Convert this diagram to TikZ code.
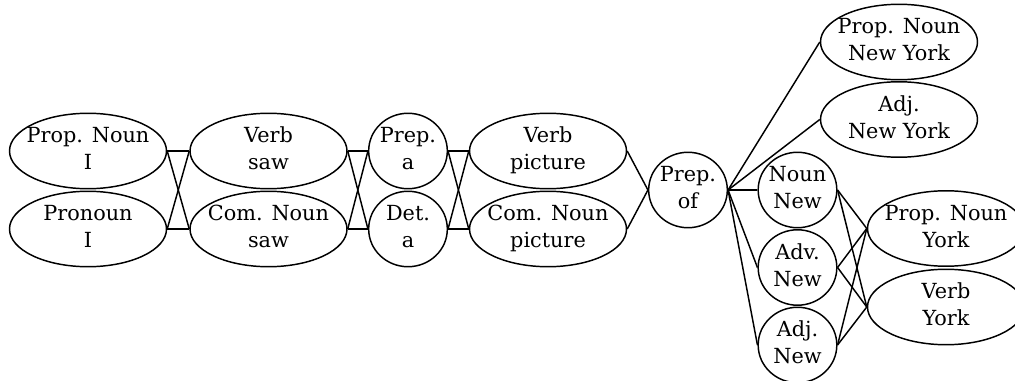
\documentclass[tikz,border=0pt]{standalone}
\usepackage{fontspec}
\setmainfont{DejaVu Serif}
\usetikzlibrary{shapes.geometric}
\newcommand{\twol}[2]{\raisebox{-1.5pt}{\makebox[0pt][c]{\begin{tabular}{@{}c@{}}#1\\#2\end{tabular}}}}
\begin{document}
\begin{tikzpicture}[x=0.75pt,y=-0.75pt,
  base/.style={ellipse, draw, line width=1.1pt, inner sep=0pt, font=\fontsize{15.6}{20}\selectfont, minimum height=52.5pt},
  ell/.style={base, minimum width=117.75pt},
  circ/.style={base, minimum width=59pt},
  conn/.style={line width=1.1pt}]
\useasboundingbox (0,0) rectangle (1015,381);
\node[ell]  (pn1)   at (88,151)    {\twol{Prop. Noun}{I}};
\node[ell]  (pr1)   at (88,229)    {\twol{Pronoun}{I}};
\node[ell]  (vs)    at (268.5,151) {\twol{Verb}{saw}};
\node[ell]  (cs)    at (268.5,229) {\twol{Com. Noun}{saw}};
\node[circ] (pa)    at (408,151)   {\twol{Prep.}{a}};
\node[circ] (da)    at (408,229)   {\twol{Det.}{a}};
\node[ell]  (vp)    at (548,151)   {\twol{Verb}{picture}};
\node[ell]  (cp)    at (548,229)   {\twol{Com. Noun}{picture}};
\node[circ] (po)    at (688,190)   {\twol{Prep.}{of}};
\node[ell]  (pnny)  at (899,42)    {\twol{Prop. Noun}{New York}};
\node[ell]  (adjny) at (899,119.5) {\twol{Adj.}{New York}};
\node[circ] (nn)    at (797.5,190) {\twol{Noun}{New}};
\node[circ] (avn)   at (797.5,267.5) {\twol{Adv.}{New}};
\node[circ] (ajn)   at (797.5,345) {\twol{Adj.}{New}};
\node[ell]  (pny)   at (946,228.5) {\twol{Prop. Noun}{York}};
\node[ell]  (vy)    at (946,307)   {\twol{Verb}{York}};
\foreach \a/\b in {pn1/vs,pn1/cs,pr1/vs,pr1/cs,vs/pa,vs/da,cs/pa,cs/da,pa/vp,pa/cp,da/vp,da/cp,vp/po,cp/po,po/pnny,po/adjny,po/nn,po/avn,po/ajn,nn/pny,nn/vy,avn/pny,avn/vy,ajn/pny,ajn/vy}
  \draw[conn] (\a.east) -- (\b.west);
\end{tikzpicture}
\end{document}
